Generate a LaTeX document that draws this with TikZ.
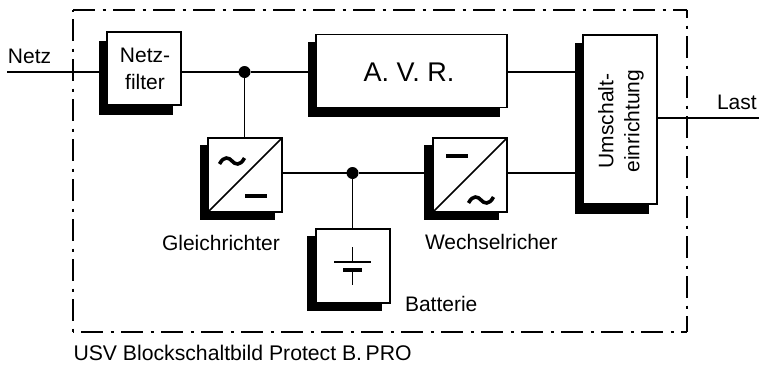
\documentclass[tikz,border=0pt]{standalone}
\usepackage{fontspec}
\setmainfont{Liberation Sans}
\usetikzlibrary{calc}
\newcommand{\fsz}[1]{\fontsize{#1}{#1}\selectfont}
\tikzset{
  x=1pt,y=-1pt,
  conn/.style={line width=1.5pt},
  framepath/.style={line width=2pt,dash pattern=on 22pt off 7.5pt on 3pt off 7.5pt},
  boxbody/.style={draw=black,fill=white,line width=1.5pt,inner sep=0pt,outer sep=0pt,align=center},
  boxshade/.style={fill=black,inner sep=0pt,outer sep=0pt},
  sq/.style={minimum width=74pt,minimum height=74pt},
  lbl/.style={inner sep=0pt,outer sep=0pt,anchor=base west,font=\fsz{21}},
  jdot/.style={circle,fill=black,minimum size=12pt,inner sep=0pt,outer sep=0pt},
  sign/.style={line width=4pt},
  wave/.style={line width=3.6pt}
}
\newcommand{\wavepath}[1]{\draw[wave] ($(#1)+(-12.5,3)$) .. controls ($(#1)+(-8,-5.5)$) and ($(#1)+(-3,-3.5)$) .. (#1) .. controls ($(#1)+(3,3.5)$) and ($(#1)+(8,5.5)$) .. ($(#1)+(12.5,-3)$);}
\begin{document}
\begin{tikzpicture}
\useasboundingbox (0,0) rectangle (759,364);
\coordinate (fa) at (73,9.5);
\coordinate (fb) at (73,331.5);
\coordinate (fc) at (687,331.5);
\coordinate (fd) at (687,9.5);
\draw[framepath] (fa) -- (fd);
\draw[framepath,dash phase=30.5pt] (fa) -- (fb);
\draw[framepath,dash phase=13.5pt] (fd) -- (fc);
\draw[framepath,dash phase=32pt] (fb) -- (fc);

\coordinate (netzend) at (7,72);
\coordinate (lastend) at (759,118);
\node[jdot] (j1) at (244.5,72) {};
\node[jdot] (j2) at (352.5,173) {};

% shadows
\node[boxshade,minimum width=74pt,minimum height=74pt] (nfs) at (136,78) {};
\node[boxshade,minimum width=192pt,minimum height=75pt] (avrs) at (404,79.5) {};
\node[boxshade,minimum width=74pt,minimum height=171pt] (ums) at (612,128.5) {};
\node[boxshade,minimum width=75pt,minimum height=75pt] (gls) at (237,182.5) {};
\node[boxshade,minimum width=75pt,minimum height=75pt] (wrs) at (461.5,182.5) {};
\node[boxshade,minimum width=75pt,minimum height=75pt] (bas) at (344.5,273.5) {};

% bodies
\node[boxbody,minimum width=74pt,minimum height=73pt] (nf) at (144,68.5) {};
\node[font=\fsz{21},align=center,inner sep=0pt] (nft) at (145,69) {Netz-\\[6pt]filter};
\node[boxbody,minimum width=191pt,minimum height=73pt] (avr) at (411.5,71) {};
\node[font=\fsz{27},inner sep=0pt,anchor=base] (avrt) at (409,81.5) {A. V. R.};
\node[boxbody,minimum width=74pt,minimum height=169pt] (um) at (620,119.5) {};
\node[boxbody,sq] (gl) at (245,175) {};
\node[boxbody,sq] (wr) at (470,175) {};
\node[boxbody,sq] (ba) at (353,266) {};

\node[rotate=90,align=center,font=\fsz{21},inner sep=0pt] (umt) at (621,121) {Umschalt-\\[5pt]einrichtung};

% connectors
\draw[conn] (netzend) -- (nfs.west |- netzend);
\draw[conn] (nf.east |- j1) -- (j1) -- (avrs.west |- j1);
\draw[conn] (j1) -- (gl.north -| j1);
\draw[conn] (gl.east |- j2) -- (j2) -- (wrs.west |- j2);
\draw[conn] (j2) -- (ba.north -| j2);
\draw[conn] (avr.east |- j1) -- (ums.west |- j1);
\draw[conn] (wr.east |- j2) -- (ums.west |- j2);
\draw[conn] (um.east |- lastend) -- (lastend);

% converter diagonals and signs
\draw[conn] (gl.south west) -- (gl.north east);
\draw[conn] (wr.south west) -- (wr.north east);
\draw[sign] (245,196) -- (267,196);
\draw[sign] (446,156) -- (468,156);
\coordinate (wg) at (232,161);
\coordinate (ww) at (481,200);
\wavepath{wg}
\wavepath{ww}

% battery symbol
\draw[conn] (352.5,247) -- (352.5,262);
\draw[conn] (334,262) -- (371,262);
\draw[sign] (343,270) -- (362,270);
\draw[conn] (352.5,270) -- (352.5,285);

% labels
\node[lbl] (lnetz) at (8,63) {Netz};
\node[lbl] (llast) at (717,109) {Last};
\node[lbl] (lgl) at (162,250.5) {Gleichrichter};
\node[lbl] (lwr) at (425,249.5) {Wechselricher};
\node[lbl] (lba) at (405,311) {Batterie};
\node[lbl,font=\fsz{21.2}] (lfoot) at (73.5,360.7) {USV Blockschaltbild Protect B.\,PRO};
\end{tikzpicture}
\end{document}
